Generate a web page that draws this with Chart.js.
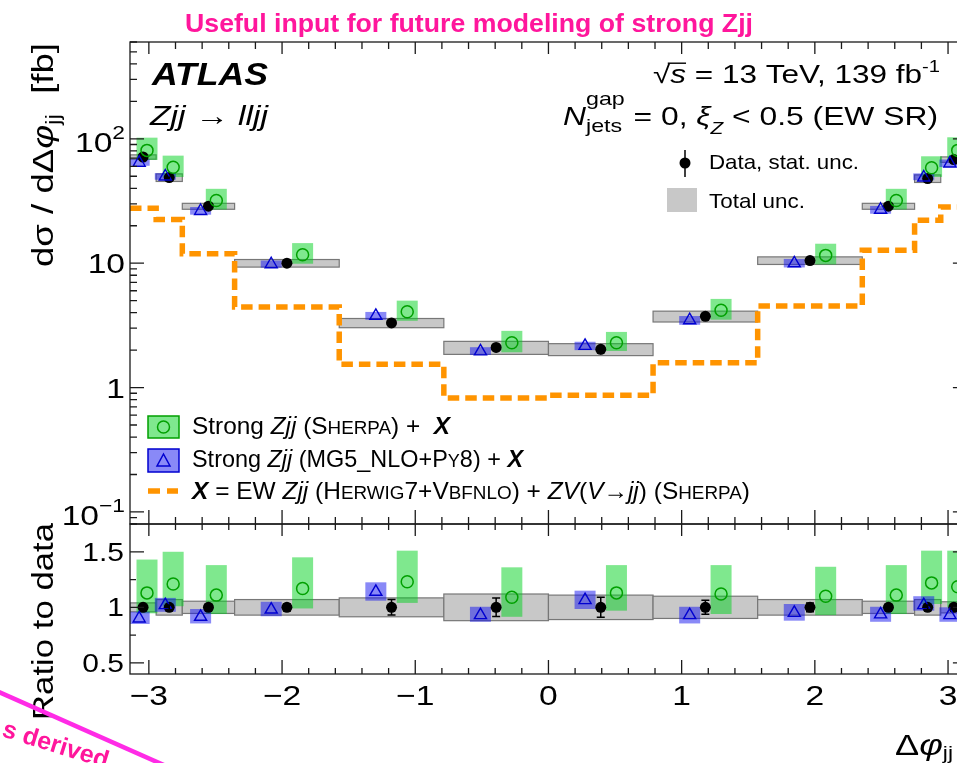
<!DOCTYPE html>
<html>
<head>
<meta charset="utf-8">
<script src="https://cdn.jsdelivr.net/npm/chart.js@4.4.1/dist/chart.umd.min.js"></script>
<style>
  html, body { margin: 0; padding: 0; background: #fff; overflow: hidden; width: 957px; height: 763px; }
  canvas { display: block; }
</style>
</head>
<body>
<canvas id="plot" width="990" height="763"></canvas>
<script>
// bin edges of delta-phi(jj), in units of pi
const binEdgesPi = [-1, -15/16, -7/8, -3/4, -1/2, -1/4, 0, 1/4, 1/2, 3/4, 7/8, 15/16, 1];

// unfolded data [fb], stat and total relative uncertainties
const dataXsec    = [71.4, 48.8, 28.7, 10.0, 3.31, 2.10, 2.03, 3.74, 10.5, 28.7, 47.9, 68.1];
const dataStatRel = [0.015, 0.02, 0.025, 0.03, 0.07, 0.083, 0.09, 0.063, 0.04, 0.025, 0.02, 0.015];
const totalUncRel = [0.04, 0.07, 0.055, 0.07, 0.085, 0.12, 0.11, 0.10, 0.07, 0.055, 0.07, 0.05];

// strong Zjj (Sherpa) + X, ratio to data with its uncertainty band
const sherpaRatio = [1.13, 1.21, 1.11, 1.17, 1.23, 1.09, 1.13, 1.12, 1.10, 1.11, 1.22, 1.185];
const sherpaLo    = [0.946, 1.01, 0.94, 0.99, 1.04, 0.915, 0.97, 0.94, 0.93, 0.94, 1.03, 1.00];
const sherpaHi    = [1.43, 1.50, 1.38, 1.45, 1.51, 1.36, 1.38, 1.38, 1.365, 1.38, 1.51, 1.51];

// strong Zjj (MG5_NLO+Py8) + X, ratio to data with its uncertainty band
const mg5Ratio = [0.90, 1.02, 0.915, 0.98, 1.14, 0.93, 1.065, 0.93, 0.95, 0.937, 1.02, 0.93];
const mg5Lo    = [0.85, 0.96, 0.855, 0.92, 1.06, 0.87, 0.985, 0.855, 0.88, 0.87, 0.97, 0.87];
const mg5Hi    = [0.96, 1.085, 0.985, 1.05, 1.225, 1.005, 1.15, 1.005, 1.03, 1.005, 1.10, 1.0];

// X = EW Zjj + ZV(V->jj) [fb]
const ewXsec = [27.7, 22.4, 11.9, 4.44, 1.54, 0.826, 0.867, 1.58, 4.52, 12.7, 22.1, 28.3];

// axis ticks
const xTickValues = [-3, -2, -1, 0, 1, 2, 3];
const yTickValues = [0.1, 1, 10, 100];
const ratioTickValues = [0.5, 1, 1.5];

const SANS = '"Liberation Sans", Arial, Helvetica, sans-serif';
const ORANGE = '#ff9400';
const GREY_FILL = '#c8c8c8', GREY_LINE = '#777777';
const GREEN_FILL = 'rgba(0, 210, 30, 0.5)', GREEN_LINE = '#00a000';
const BLUE_FILL = 'rgba(20, 20, 240, 0.5)', BLUE_LINE = '#0000d0';
const BOX_HALF = 10.5;

const binEdges = binEdgesPi.map(f => f * Math.PI);
const binCentres = binEdges.slice(0, -1).map((e, i) => (e + binEdges[i + 1]) / 2);
const shift = i => 0.15 * (binEdges[i + 1] - binEdges[i]);
const sherpaX = binCentres.map((x, i) => x + shift(i));
const mg5X = binCentres.map((x, i) => x - shift(i));

// ---- small rich-text helper (italics, sub/superscripts, small caps) ----
const R = (t, size, style, dy) => ({ t, size, style: style || '', dy: dy || 0 });
const fnt = (size, style) => (style ? style + ' ' : '') + size + 'px ' + SANS;

function measureRuns(ctx, runs) {
  let w = 0;
  for (const r of runs) {
    ctx.font = fnt(r.size, r.style);
    r.w = r.pair
      ? Math.max(ctx.measureText(r.pair[0]).width, ctx.measureText(r.pair[1]).width)
      : ctx.measureText(r.t).width;
    w += r.w;
  }
  return w;
}

function drawRuns(ctx, runs, x, y, o = {}) {
  const natural = measureRuns(ctx, runs);
  const sx = o.width ? o.width / natural : (o.sx || 1);
  const total = natural * sx;
  const x0 = o.align === 'right' ? x - total : o.align === 'center' ? x - total / 2 : x;
  ctx.save();
  ctx.translate(x0, y);
  if (o.rotate) ctx.rotate(o.rotate);
  ctx.scale(sx, 1);
  ctx.fillStyle = o.color || '#000';
  ctx.textAlign = 'left';
  ctx.textBaseline = 'alphabetic';
  let cx = 0;
  for (const r of runs) {
    ctx.font = fnt(r.size, r.style);
    if (r.pair) {
      ctx.fillText(r.pair[0], cx, r.up);
      ctx.fillText(r.pair[1], cx, r.down);
    } else {
      ctx.fillText(r.t, cx, r.dy);
      if (r.bar) ctx.fillRect(cx - 2, -r.size * 0.82, r.w + 2, 1.4);
    }
    cx += r.w;
  }
  ctx.restore();
}

// ---- uncertainty boxes, drawn under the markers ----
function rect(ctx, x0, x1, yTop, yBot, fill, line) {
  ctx.fillStyle = fill;
  ctx.fillRect(x0, yTop, x1 - x0, yBot - yTop);
  if (line) {
    ctx.strokeStyle = line;
    ctx.lineWidth = 1.2;
    ctx.strokeRect(x0, yTop, x1 - x0, yBot - yTop);
  }
}

function drawBands(chart) {
  const { ctx, chartArea: a } = chart;
  const xs = chart.scales.x, ys = chart.scales.y, rs = chart.scales.ratio;
  ctx.save();
  ctx.beginPath();
  ctx.rect(a.left, a.top, a.right - a.left, a.bottom - a.top);
  ctx.clip();
  for (let i = 0; i < dataXsec.length; i++) {
    const x0 = xs.getPixelForValue(binEdges[i]), x1 = xs.getPixelForValue(binEdges[i + 1]);
    const t = totalUncRel[i];
    rect(ctx, x0, x1, ys.getPixelForValue(dataXsec[i] * (1 + t)), ys.getPixelForValue(dataXsec[i] * (1 - t)), GREY_FILL, GREY_LINE);
    rect(ctx, x0, x1, rs.getPixelForValue(1 + t), rs.getPixelForValue(1 - t), GREY_FILL, GREY_LINE);
  }
  for (let i = 0; i < dataXsec.length; i++) {
    const xg = xs.getPixelForValue(sherpaX[i]), xb = xs.getPixelForValue(mg5X[i]);
    rect(ctx, xg - BOX_HALF, xg + BOX_HALF, ys.getPixelForValue(dataXsec[i] * sherpaHi[i]), ys.getPixelForValue(dataXsec[i] * sherpaLo[i]), GREEN_FILL);
    rect(ctx, xg - BOX_HALF, xg + BOX_HALF, rs.getPixelForValue(sherpaHi[i]), rs.getPixelForValue(sherpaLo[i]), GREEN_FILL);
    rect(ctx, xb - BOX_HALF, xb + BOX_HALF, ys.getPixelForValue(dataXsec[i] * mg5Hi[i]), ys.getPixelForValue(dataXsec[i] * mg5Lo[i]), BLUE_FILL);
    rect(ctx, xb - BOX_HALF, xb + BOX_HALF, rs.getPixelForValue(mg5Hi[i]), rs.getPixelForValue(mg5Lo[i]), BLUE_FILL);
  }
  ctx.restore();
}

// ---- data stat. error bars ----
function drawErrors(chart) {
  const { ctx } = chart;
  const xs = chart.scales.x, ys = chart.scales.y, rs = chart.scales.ratio;
  ctx.save();
  ctx.strokeStyle = '#000';
  ctx.lineWidth = 1.5;
  ctx.beginPath();
  for (let i = 0; i < dataXsec.length; i++) {
    const px = xs.getPixelForValue(binCentres[i]);
    const s = dataStatRel[i];
    ctx.moveTo(px, ys.getPixelForValue(dataXsec[i] * (1 + s)));
    ctx.lineTo(px, ys.getPixelForValue(dataXsec[i] * (1 - s)));
    const t = rs.getPixelForValue(1 + s), b = rs.getPixelForValue(1 - s);
    ctx.moveTo(px, t); ctx.lineTo(px, b);
    ctx.moveTo(px - 4, t); ctx.lineTo(px + 4, t);
    ctx.moveTo(px - 4, b); ctx.lineTo(px + 4, b);
  }
  ctx.stroke();
  ctx.restore();
}

// ---- ROOT style frame with inward ticks ----
function drawFrame(chart) {
  const { ctx } = chart;
  const xs = chart.scales.x, ys = chart.scales.y, rs = chart.scales.ratio;
  const L = xs.left, Rt = xs.right;
  ctx.save();
  ctx.strokeStyle = '#1a1a1a';
  ctx.lineWidth = 1.3;
  ctx.strokeRect(L, ys.top, Rt - L, ys.bottom - ys.top);
  ctx.strokeRect(L, rs.top, Rt - L, rs.bottom - rs.top);
  ctx.beginPath();
  const seg = (a, b, c, d) => { ctx.moveTo(a, b); ctx.lineTo(c, d); };
  for (let k = -15; k <= 15; k++) {
    const px = xs.getPixelForValue(k / 5);
    const major = k % 5 === 0;
    seg(px, ys.top, px, ys.top + (major ? 12 : 7));
    seg(px, ys.bottom, px, ys.bottom - (major ? 14 : 7));
    seg(px, rs.top, px, rs.top + (major ? 12 : 6));
    seg(px, rs.bottom, px, rs.bottom - (major ? 14 : 6));
  }
  const yMin = ys.min, yMax = ys.max;
  for (const d of [0.01, 0.1, 1, 10, 100]) {
    for (let m = 1; m <= 9; m++) {
      const v = m * d;
      if (v < yMin || v > yMax) continue;
      const py = ys.getPixelForValue(v);
      const len = m === 1 ? 14 : 7;
      seg(L, py, L + len, py);
      seg(Rt, py, Rt - len, py);
    }
  }
  for (const v of [0.5, 0.75, 1, 1.25, 1.5]) {
    const py = rs.getPixelForValue(v);
    const len = ratioTickValues.includes(v) ? 14 : 6;
    seg(L, py, L + len, py);
    seg(Rt, py, Rt - len, py);
  }
  ctx.stroke();
  ctx.restore();
}

// ---- axis labels and titles ----
function drawAxisText(chart) {
  const { ctx } = chart;
  const xs = chart.scales.x, ys = chart.scales.y, rs = chart.scales.ratio;
  for (const v of xTickValues) {
    const txt = v < 0 ? '\u2212' + Math.abs(v) : String(v);
    drawRuns(ctx, [R(txt, 28)], xs.getPixelForValue(v), 705, { align: 'center', sx: 1.2 });
  }
  for (const v of yTickValues) {
    const e = Math.round(Math.log10(v));
    const py = ys.getPixelForValue(v);
    let runs;
    if (e === 0) runs = [R('1', 28)];
    else if (e === 1) runs = [R('10', 28)];
    else runs = [R('10', 28), R(e < 0 ? '\u2212' + Math.abs(e) : String(e), 19, '', -13)];
    drawRuns(ctx, runs, 125, py + (runs.length > 1 ? 13 : 10), { align: 'right', sx: 1.2 });
  }
  for (const v of ratioTickValues) {
    drawRuns(ctx, [R(String(v), 25)], 124, rs.getPixelForValue(v) + 9, { align: 'right', sx: 1.2 });
  }
  // y titles (rotated)
  drawRuns(ctx, [R('d\u03c3 / d\u0394', 30), R('\u03c6', 30, 'italic'), R('jj', 20, '', 7), R('  [fb]', 30)],
    53, 267, { rotate: -Math.PI / 2, width: 224 });
  drawRuns(ctx, [R('Ratio to data', 30)], 53, 720, { rotate: -Math.PI / 2, width: 197 });
  // x title
  drawRuns(ctx, [R('\u0394', 30), R('\u03c6', 30, 'italic'), R('jj', 19, '', 4)], 895, 755, { width: 58 });
}

// ---- labels and legends inside the frame ----
function drawLegends(chart) {
  const { ctx } = chart;
  drawRuns(ctx, [R('ATLAS', 31, 'italic bold')], 152, 85, { width: 116 });
  drawRuns(ctx, [R('Zjj', 27, 'italic'), R(' \u2192 ', 27), R('lljj', 27, 'italic')], 150, 125, { width: 118 });

  const s = R('s', 25, 'italic'); s.bar = true;
  drawRuns(ctx, [R('\u221a', 25), s, R(' = 13 TeV, 139 fb', 25), R('-1', 16, '', -11)], 653, 83, { width: 287 });
  drawRuns(ctx, [R('N', 26, 'italic'), { pair: ['gap', 'jets'], size: 19, style: '', up: -20, down: 7 },
    R(' = 0, ', 26), R('\u03be', 26, 'italic'), R('Z', 17, 'italic', 9), R(' < 0.5 (EW SR)', 26)],
    563, 125, { width: 375 });

  // data / total unc. legend
  ctx.save();
  ctx.fillStyle = '#000';
  ctx.strokeStyle = '#000';
  ctx.lineWidth = 1.5;
  ctx.beginPath(); ctx.moveTo(685, 150); ctx.lineTo(685, 177); ctx.stroke();
  ctx.beginPath(); ctx.arc(685, 163, 5.5, 0, Math.PI * 2); ctx.fill();
  ctx.fillStyle = GREY_FILL;
  ctx.fillRect(667, 188, 30, 24);
  ctx.restore();
  drawRuns(ctx, [R('Data, stat. unc.', 21)], 709, 169, { width: 150 });
  drawRuns(ctx, [R('Total unc.', 21)], 709, 208, { width: 96 });

  // prediction legend
  ctx.save();
  ctx.lineWidth = 1.5;
  ctx.fillStyle = GREEN_FILL; ctx.fillRect(148, 416, 31, 22);
  ctx.strokeStyle = GREEN_LINE; ctx.strokeRect(148, 416, 31, 22);
  ctx.beginPath(); ctx.arc(163.5, 427, 6, 0, Math.PI * 2); ctx.stroke();
  ctx.fillStyle = BLUE_FILL; ctx.fillRect(148, 449, 31, 23);
  ctx.strokeStyle = BLUE_LINE; ctx.strokeRect(148, 449, 31, 23);
  ctx.beginPath();
  ctx.moveTo(163.5, 454); ctx.lineTo(170, 466); ctx.lineTo(157, 466); ctx.closePath(); ctx.stroke();
  ctx.strokeStyle = ORANGE; ctx.lineWidth = 5.5;
  ctx.beginPath(); ctx.moveTo(148, 491); ctx.lineTo(160, 491); ctx.moveTo(167, 491); ctx.lineTo(178, 491); ctx.stroke();
  ctx.restore();

  const sc = 18.5;
  drawRuns(ctx, [R('Strong ', 24), R('Zjj', 24, 'italic'), R(' (S', 24), R('HERPA', sc), R(') +  ', 24), R('X', 24, 'italic bold')],
    192, 434, { width: 258 });
  drawRuns(ctx, [R('Strong ', 24), R('Zjj', 24, 'italic'), R(' (MG5_NLO+P', 24), R('Y', sc), R('8) + ', 24), R('X', 24, 'italic bold')],
    192, 467, { width: 331 });
  drawRuns(ctx, [R('X', 24, 'italic bold'), R(' = EW ', 24), R('Zjj', 24, 'italic'), R(' (H', 24), R('ERWIG', sc),
    R('7+V', 24), R('BFNLO', sc), R(') + ', 24), R('ZV', 24, 'italic'), R('(', 24), R('V', 24, 'italic'),
    R('\u2192', 24), R('jj', 24, 'italic'), R(') (S', 24), R('HERPA', sc), R(')', 24)],
    192, 499, { width: 558 });

  // annotations
  drawRuns(ctx, [R('Useful input for future modeling of strong Zjj', 26, 'bold')], 185, 32, { width: 568, color: '#ff169c' });
  ctx.save();
  ctx.strokeStyle = '#ff2be6';
  ctx.lineWidth = 4.5;
  ctx.beginPath(); ctx.moveTo(-10, 688); ctx.lineTo(175, 770); ctx.stroke();
  ctx.restore();
  drawRuns(ctx, [R('s derived', 25, 'bold')], 1, 736, { rotate: 0.3, color: '#ff169c' });
}

const rootPlot = {
  id: 'rootPlot',
  beforeDatasetsDraw(chart) { drawBands(chart); },
  afterDatasetsDraw(chart) {
    drawErrors(chart);
    drawFrame(chart);
    drawAxisText(chart);
    drawLegends(chart);
  }
};

const ewLine = ewXsec.map((v, i) => ({ x: binEdges[i], y: v }));
ewLine.push({ x: binEdges[binEdges.length - 1], y: ewXsec[ewXsec.length - 1] });

const markers = (axis, pts) => [
  { data: pts.mg5, yAxisID: axis, pointStyle: 'triangle', pointRadius: 7, borderColor: BLUE_LINE, backgroundColor: 'rgba(0,0,0,0)', pointBorderWidth: 1.4 },
  { data: pts.sherpa, yAxisID: axis, pointStyle: 'circle', pointRadius: 6, borderColor: GREEN_LINE, backgroundColor: 'rgba(0,0,0,0)', pointBorderWidth: 1.5 },
  { data: pts.data, yAxisID: axis, pointStyle: 'circle', pointRadius: 5.5, borderColor: '#000', backgroundColor: '#000', pointBorderWidth: 0 }
];

const mainPts = {
  data: binCentres.map((x, i) => ({ x, y: dataXsec[i] })),
  sherpa: sherpaX.map((x, i) => ({ x, y: dataXsec[i] * sherpaRatio[i] })),
  mg5: mg5X.map((x, i) => ({ x, y: dataXsec[i] * mg5Ratio[i] }))
};
const ratioPts = {
  data: binCentres.map(x => ({ x, y: 1 })),
  sherpa: sherpaX.map((x, i) => ({ x, y: sherpaRatio[i] })),
  mg5: mg5X.map((x, i) => ({ x, y: mg5Ratio[i] }))
};

new Chart(document.getElementById('plot'), {
  type: 'scatter',
  data: {
    datasets: [
      { data: ewLine, yAxisID: 'y', showLine: true, stepped: 'before', borderColor: ORANGE, borderWidth: 5.5,
        borderDash: [11.5, 6], borderCapStyle: 'butt', pointRadius: 0, fill: false },
      ...markers('y', mainPts),
      ...markers('ratio', ratioPts)
    ]
  },
  options: {
    responsive: false,
    animation: false,
    devicePixelRatio: 1,
    layout: { padding: { left: 130, right: 23.1, top: 42, bottom: 89 } },
    plugins: { legend: { display: false }, tooltip: { enabled: false } },
    scales: {
      x: { type: 'linear', min: -Math.PI, max: Math.PI, display: false },
      y: { type: 'logarithmic', min: 0.08, max: 600, display: false, position: 'left', stack: 'panels', stackWeight: 482, weight: 1 },
      ratio: { type: 'linear', axis: 'y', min: 0.4, max: 1.75, display: false, position: 'left', stack: 'panels', stackWeight: 150, weight: 0 }
    }
  },
  plugins: [rootPlot]
});
</script>
</body>
</html>
